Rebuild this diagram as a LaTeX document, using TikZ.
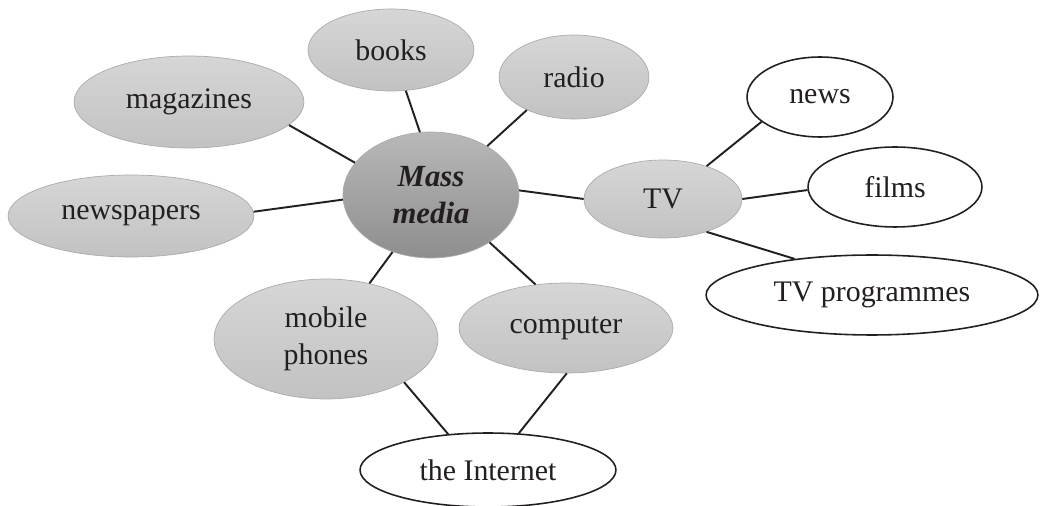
\documentclass[tikz,border=0pt]{standalone}
\usepackage{fontspec}
\setmainfont{Liberation Serif}
\usepackage{tikz}
\usetikzlibrary{shapes.geometric}

\definecolor{inkblack}{HTML}{231F20}
\definecolor{leaftop}{HTML}{D6D6D6}
\definecolor{leafbot}{HTML}{C2C2C2}
\definecolor{leafrim}{HTML}{ABABAB}
\definecolor{hubtop}{HTML}{B8B8B8}
\definecolor{hubbot}{HTML}{8E8E8E}

\tikzset{
    oval/.style 2 args={ellipse, inner sep=0pt, minimum width=#1*0.04cm, minimum height=#2*0.04cm,
        font=\fontsize{17}{21}\selectfont, text=inkblack, align=center},
    leaf/.style={draw=leafrim, line width=0.4pt, top color=leaftop, bottom color=leafbot},
    hub/.style={draw=leafrim, line width=0.4pt, top color=hubtop, bottom color=hubbot},
    plain/.style={draw=inkblack, line width=0.9pt, fill=white},
    link/.style={draw=inkblack, line width=1.1pt}
}

\begin{document}
\begin{tikzpicture}[x=0.02cm, y=-0.02cm]
    \useasboundingbox (0,0) rectangle (1042,506);
    \node[oval={88}{63}, hub, font=\fontsize{17.5}{21.5}\selectfont\bfseries\itshape] (mass) at (431,195) {Mass\\media};
    \node[oval={83}{41}, leaf] (books) at (391,50) {books};
    \node[oval={75}{42}, leaf] (radio) at (574,77) {radio};
    \node[oval={115}{46}, leaf] (magazines) at (189,102) {magazines};
    \node[oval={123}{41}, leaf] (newspapers) at (131,216) {newspapers};
    \node[oval={79}{39}, leaf] (tv) at (663,199) {TV};
    \node[oval={112}{60}, leaf] (mobile) at (326,339) {mobile\\phones};
    \node[oval={107}{45}, leaf] (computer) at (566,328) {computer};
    \node[oval={73}{40}, plain] (news) at (820,97) {news};
    \node[oval={87}{40}, plain] (films) at (895,187) {films};
    \node[oval={166}{40}, plain] (programmes) at (872,295) {TV programmes};
    \node[oval={128}{37}, plain] (internet) at (488,470) {the Internet};

    \foreach \a/\b in {mass.100/books.290, mass.41/radio.215, mass.157/magazines.347,
                       mass.183/newspapers.2, mass.3/tv.180, mass.236/mobile.52,
                       mass.321/computer.125, tv.37/news.203, tv.0/films.182,
                       tv.323/programmes.155, mobile.331/internet.138, computer.271/internet.50}{%
        \draw[link] (\a) -- (\b);
    }
\end{tikzpicture}
\end{document}
